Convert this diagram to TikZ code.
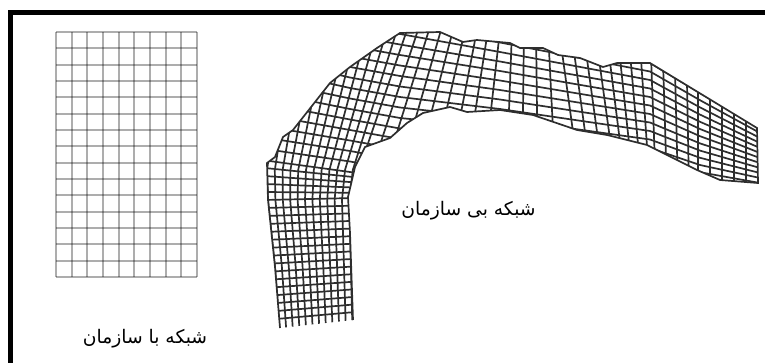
\documentclass[tikz,border=0pt]{standalone}
\usepackage{fontspec}
\newfontfamily\arabicfont[Script=Arabic]{DejaVu Sans}
\TeXXeTstate=1
\tikzset{
	gridline/.style={line width=2pt, black, draw opacity=0.32},
	meshline/.style={line width=1.7pt, black!82},
	framebar/.style={line width=5pt, black},
	caption/.style={font=\arabicfont\fontsize{18.7}{21}\selectfont, inner sep=0pt}
}
% band outline, open at the lower end
\def\bandpath{(280,328) -- (275,267) -- (268,200) -- (267,163) -- (275,157) -- (283,137) -- (293,130)
	-- (330,83) -- (350,67) -- (377,48) -- (400,33) -- (440,32) -- (463,42) -- (477,40) -- (510,43)
	-- (520,48) -- (543,48) -- (558,55) -- (580,58) -- (603,67) -- (617,63) -- (650,63) -- (757,128)
	-- (758,183) -- (720,180) -- (697,170) -- (647,145) -- (607,135) -- (577,130) -- (533,115)
	-- (500,110) -- (467,112) -- (450,107) -- (423,113) -- (407,123) -- (390,138) -- (365,147)
	-- (355,167) -- (348,197) -- (350,233) -- (353,320)}
\begin{document}
\begin{tikzpicture}[x=1pt, y=-1pt]
		\useasboundingbox (0,0) rectangle (765,363);

		% frame, top and left only
		\draw [framebar] (10.5,363) -- (10.5,12.5) -- (765,12.5);

		% regular grid
		\foreach \c in {0,...,9}
			\draw [gridline] ({56+\c*15.67},32) -- ({56+\c*15.67},277);
		\foreach \r in {0,...,15}
			\draw [gridline] (56,{32+\r*16.33}) -- (197,{32+\r*16.33});

		% irregular mesh, cut to the band
		\begin{scope}
			\clip \bandpath -- cycle;
			% lines coming up from the lower end
			\foreach \k in {0,...,11}
				\draw [meshline] ({280+6.6*\k},335) -- ({275+6.9*\k},267) -- ({268+7.4*\k},200)
					-- ({267+7.8*\k},170) -- ({287+10*\k},30);
			% lines ending on the inner edge: x at y=30 / x at y=190
			\foreach \t/\b in {407/352, 418/365, 429/379, 441/395, 453/411, 465/428, 477/446,
				488/463, 500/482, 512/506, 524/522, 536/538, 548/556, 559/581, 571/593, 583/605,
				595/617, 606/626, 617/634, 628/642, 639/650, 650/656, 662/667, 674/678, 686/689,
				698/698, 710/710, 722/722, 734/734, 746/746}
				\draw [meshline] (\t,30) -- (\b,190);
			% lines coming in from the right end
			\foreach \q in {0,...,16}
				\draw [meshline] (760,{128+5*\q}) -- (700,{93+7.2*\q}) -- (650,{63+8.5*\q})
					-- (500,{33+9.5*\q}) -- (450,{23+10*\q}) -- (400,{13+10.5*\q})
					-- (350,{4+10.5*\q}) -- (265,{-22+11.4*\q});
			% cross lines of the lower part
			\foreach \q in {17,...,21}
				\draw [meshline] (265,{160+8*(\q-16)}) -- (355,{172+5.2*(\q-16)});
			\foreach \q in {22,...,36}
				\draw [meshline] (265,{160+8*(\q-16)}) -- (355,{198+7.6*(\q-21)});
		\end{scope}
		\draw [meshline] \bandpath;

		\node [caption] (ordered) at (145,339) {\beginR شبکه با سازمان\endR};
		\node [caption] (unordered) at (468.5,211) {\beginR شبکه بی سازمان\endR};
	\end{tikzpicture}
\end{document}
